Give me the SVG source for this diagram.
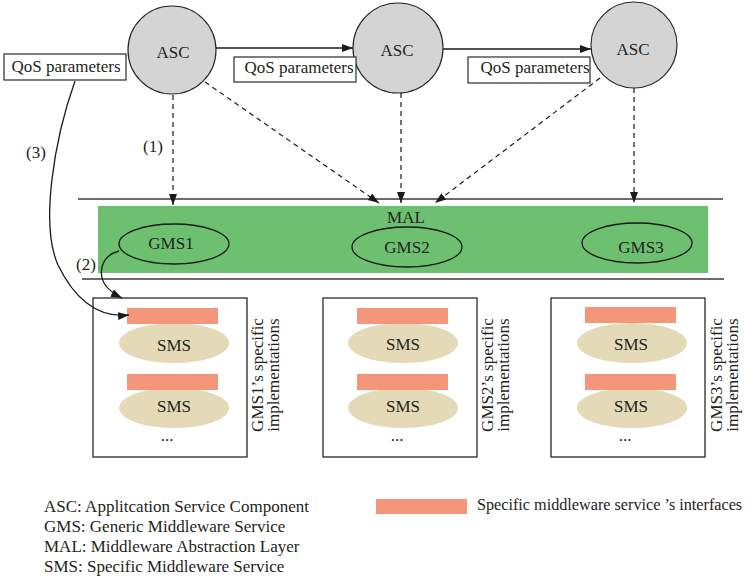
<svg xmlns="http://www.w3.org/2000/svg" width="754" height="578" viewBox="0 0 754 578">
  <style>
    text { font-family: "Liberation Serif", "Times New Roman", serif; font-size: 17px; fill: #231f20; }
    .mid { text-anchor: middle; }
    .asc { fill: #d4d4d4; stroke: #2a2a2a; stroke-width: 1.2; }
    .qos { fill: #ffffff; stroke: #2a2a2a; stroke-width: 1.2; }
    .gms { fill: none; stroke: #1a1a1a; stroke-width: 1.3; }
    .impl { fill: #ffffff; stroke: #2a2a2a; stroke-width: 1.3; }
    .iface { fill: #f4967a; }
    .sms { fill: #e4dab8; }
    .solid { fill: none; stroke: #1a1a1a; stroke-width: 1.3; }
    .dash { fill: none; stroke: #1a1a1a; stroke-width: 1.2; stroke-dasharray: 5 4; }
    .rule { stroke: #3a3a3a; stroke-width: 1.5; }
  </style>
  <defs>
    <marker id="arrow" markerUnits="userSpaceOnUse" markerWidth="12" markerHeight="9" refX="11" refY="4" orient="auto">
      <path d="M0,0 L11,4 L0,8 z" fill="#1a1a1a"/>
    </marker>
  </defs>

  <rect width="754" height="578" fill="#ffffff"/>

  <!-- Middleware abstraction layer band -->
  <g id="mal">
    <line class="rule" x1="78" y1="199" x2="723" y2="199"/>
    <rect x="98" y="206" width="610" height="67" fill="#6cc070"/>
    <line class="rule" x1="82" y1="279" x2="724" y2="279"/>
    <text class="mid" x="406" y="223">MAL</text>
  </g>

  <!-- Application service components -->
  <g id="asc1">
    <circle class="asc" cx="172" cy="50" r="44"/>
    <text class="mid" x="173" y="58">ASC</text>
  </g>
  <g id="asc2">
    <circle class="asc" cx="398" cy="48" r="45"/>
    <text class="mid" x="397" y="56">ASC</text>
  </g>
  <g id="asc3">
    <circle class="asc" cx="634" cy="45" r="43"/>
    <text class="mid" x="633" y="55">ASC</text>
  </g>

  <!-- QoS parameter labels -->
  <g id="qos1">
    <rect class="qos" x="4" y="54" width="122" height="26"/>
    <text class="mid" x="66" y="72">QoS parameters</text>
  </g>
  <g id="qos2">
    <rect class="qos" x="234" y="57" width="122" height="25"/>
    <text class="mid" x="299" y="73">QoS parameters</text>
  </g>
  <g id="qos3">
    <rect class="qos" x="468" y="57" width="122" height="26"/>
    <text class="mid" x="535" y="73">QoS parameters</text>
  </g>

  <!-- Generic middleware services -->
  <g id="gms1">
    <ellipse class="gms" cx="174" cy="244" rx="55" ry="20"/>
    <text class="mid" x="171" y="249">GMS1</text>
  </g>
  <g id="gms2">
    <ellipse class="gms" cx="407" cy="247" rx="55" ry="20"/>
    <text class="mid" x="407" y="253">GMS2</text>
  </g>
  <g id="gms3">
    <ellipse class="gms" cx="637" cy="243" rx="55" ry="20"/>
    <text class="mid" x="641" y="253">GMS3</text>
  </g>

  <!-- Specific implementations of each GMS -->
  <g id="impl1">
    <rect class="impl" x="93" y="298" width="154" height="159"/>
    <ellipse class="sms" cx="174" cy="343" rx="55" ry="20"/>
    <rect class="iface" x="127" y="308" width="91" height="16"/>
    <text class="mid" x="174" y="351">SMS</text>
    <ellipse class="sms" cx="174" cy="408" rx="55" ry="20"/>
    <rect class="iface" x="127" y="374" width="91" height="16"/>
    <text class="mid" x="174" y="412">SMS</text>
    <text class="mid" x="167" y="441">...</text>
    <text class="mid" transform="translate(263,375) rotate(-90)">GMS1’s specific<tspan x="0" dy="16">implementations</tspan></text>
  </g>
  <g id="impl2">
    <rect class="impl" x="323" y="298" width="154" height="159"/>
    <ellipse class="sms" cx="403" cy="343" rx="55" ry="20"/>
    <rect class="iface" x="357" y="308" width="91" height="16"/>
    <text class="mid" x="403" y="350">SMS</text>
    <ellipse class="sms" cx="403" cy="408" rx="55" ry="20"/>
    <rect class="iface" x="357" y="374" width="91" height="16"/>
    <text class="mid" x="403" y="412">SMS</text>
    <text class="mid" x="397" y="441">...</text>
    <text class="mid" transform="translate(493,375) rotate(-90)">GMS2’s specific<tspan x="0" dy="16">implementations</tspan></text>
  </g>
  <g id="impl3">
    <rect class="impl" x="551" y="298" width="154" height="159"/>
    <ellipse class="sms" cx="632" cy="343" rx="55" ry="20"/>
    <rect class="iface" x="585" y="307" width="91" height="16"/>
    <text class="mid" x="631" y="350">SMS</text>
    <ellipse class="sms" cx="632" cy="408" rx="55" ry="20"/>
    <rect class="iface" x="585" y="374" width="91" height="16"/>
    <text class="mid" x="631" y="412">SMS</text>
    <text class="mid" x="625" y="441">...</text>
    <text class="mid" transform="translate(722,375) rotate(-90)">GMS3’s specific<tspan x="0" dy="16">implementations</tspan></text>
  </g>

  <!-- Connectors -->
  <g id="connectors">
    <line class="solid" x1="216" y1="48" x2="353" y2="48" marker-end="url(#arrow)"/>
    <line class="solid" x1="443" y1="49" x2="591" y2="49" marker-end="url(#arrow)"/>
    <line class="dash" x1="173" y1="95" x2="173" y2="205" marker-end="url(#arrow)"/>
    <line class="dash" x1="205" y1="82" x2="379" y2="203" marker-end="url(#arrow)"/>
    <line class="dash" x1="401" y1="93" x2="401" y2="203" marker-end="url(#arrow)"/>
    <line class="dash" x1="600" y1="78" x2="435" y2="203" marker-end="url(#arrow)"/>
    <line class="dash" x1="634" y1="88" x2="634" y2="203" marker-end="url(#arrow)"/>
    <path class="solid" d="M75,81 C54,140 40,225 58,265 C76,302 100,318 129,315" marker-end="url(#arrow)"/>
    <path class="solid" d="M119,251 C100,256 99,274 104,283 C108,290 114,294 122,298" marker-end="url(#arrow)"/>
    <text x="143" y="152">(1)</text>
    <text x="76" y="270">(2)</text>
    <text x="26" y="158">(3)</text>
  </g>

  <!-- Legend -->
  <g id="legend">
    <text x="44" y="512">ASC: Applitcation Service Component</text>
    <text x="44" y="532">GMS: Generic Middleware Service</text>
    <text x="44" y="552">MAL: Middleware Abstraction Layer</text>
    <text x="44" y="572">SMS: Specific Middleware Service</text>
    <rect class="iface" x="376" y="499" width="91" height="15"/>
    <text x="477" y="510" style="font-size:16.2px">Specific middleware service ’s interfaces</text>
  </g>
</svg>
